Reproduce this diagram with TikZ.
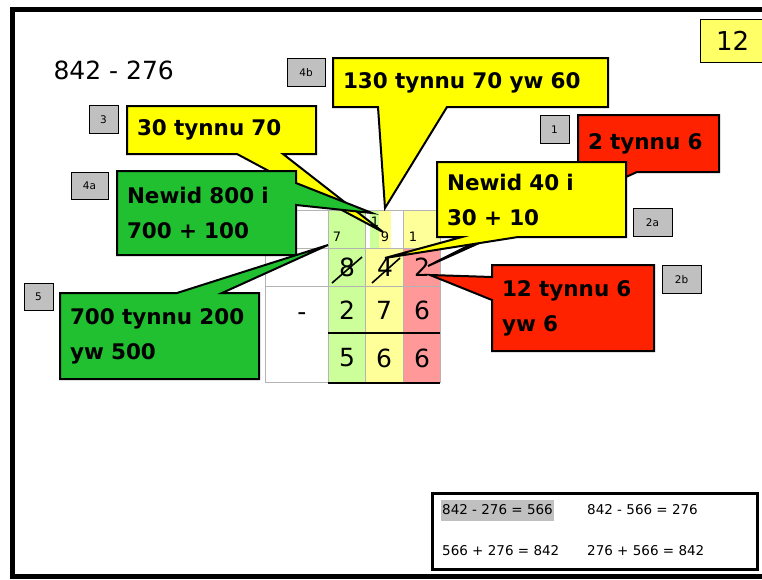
\documentclass[tikz,border=0pt]{standalone}
\usepackage{fontspec}
\setmainfont{DejaVu Sans}
\usetikzlibrary{calc}
\pgfdeclarelayer{background}
\pgfsetlayers{background,main}

\definecolor{bubbleyellow}{RGB}{255,255,0}
\definecolor{bubblegreen}{RGB}{32,192,48}
\definecolor{bubblered}{RGB}{255,34,0}
\definecolor{taggrey}{RGB}{192,192,192}
\definecolor{pageyellow}{RGB}{255,255,102}
\definecolor{colgreen}{RGB}{204,255,153}
\definecolor{colyellow}{RGB}{255,255,153}
\definecolor{colred}{RGB}{255,153,153}
\definecolor{gridgrey}{RGB}{180,180,180}

\tikzset{
  bubble/.style={anchor=north west, align=left, inner xsep=10pt, inner ysep=0pt, outer sep=0pt,
    font=\bfseries\fontsize{21.5}{35}\selectfont},
  outline/.style={draw=black, line width=2pt, line join=miter},
  tag/.style={draw=black, fill=taggrey, minimum height=28pt, inner sep=0pt,
    font=\fontsize{10.5}{12}\selectfont},
  digit/.style={font=\fontsize{25}{30}\selectfont},
  carry/.style={font=\fontsize{13}{15}\selectfont, inner sep=0pt},
  eqtext/.style={anchor=west, inner xsep=1pt, minimum height=21pt,
    font=\fontsize{13.5}{16}\selectfont}
}

\begin{document}
\begin{tikzpicture}[x=1pt, y=-1pt]
  \useasboundingbox (0,0) rectangle (762,579);

  % heading and page number
  \node (sum)  [anchor=west, font=\fontsize{25}{30}\selectfont] at (50,70) {842 - 276};
  \node (page) [draw, line width=1.2pt, fill=pageyellow, anchor=north west, minimum width=64pt,
    minimum height=43pt, font=\fontsize{26}{30}\selectfont] at (700,19) {12};

  % step numbers
  \node (s4b) [tag, minimum width=38pt] at (306,72.5)    {4b};
  \node (s3)  [tag, minimum width=29pt] at (103.5,119.5) {3};
  \node (s4a) [tag, minimum width=37pt, minimum height=27pt] at (89.5,185.5) {4a};
  \node (s5)  [tag, minimum width=29pt, minimum height=27pt] at (38.5,296.5) {5};
  \node (s1)  [tag, minimum width=29pt] at (554.5,129.5) {1};
  \node (s2a) [tag, minimum width=39pt] at (652.5,222.5) {2a};
  \node (s2b) [tag, minimum width=39pt] at (681.5,279.5) {2b};

  % speech bubbles
  \node (c130) [bubble, text width=255pt, minimum height=49pt] at (333,58)  {130 tynnu 70 yw 60};
  \node (c30)  [bubble, text width=169pt, minimum height=48pt] at (127,106) {30 tynnu 70};
  \node (c800) [bubble, text width=159pt, minimum height=84pt] at (117,171) {Newid 800 i\\700 + 100};
  \node (c2)   [bubble, text width=121pt, minimum height=57pt] at (578,115) {2 tynnu 6};
  \node (c40)  [bubble, text width=169pt, minimum height=75pt] at (437,162) {Newid 40 i\\30 + 10};
  \node (c12)  [bubble, text width=142pt, minimum height=86pt] at (492,265) {12 tynnu 6\\yw 6};
  \node (c700) [bubble, text width=179pt, minimum height=86pt] at (60,293)  {700 tynnu 200\\yw 500};

  % where the bubbles point
  \coordinate (tip130) at (385,208);
  \coordinate (tip30)  at (383,232);
  \coordinate (tip800) at (372,213);
  \coordinate (tip2)   at (428,266);
  \coordinate (tip40)  at (385,258);
  \coordinate (tip12)  at (430,275);
  \coordinate (tip700) at (328,245);

  % the sum
  \node (k7)  [carry] at (337,237) {7};
  \node (k1)  [carry] at (375,222) {1};
  \node (k9)  [carry] at (385,237) {9};
  \node (k1b) [carry] at (413,237) {1};
  \node (d8) [digit] at (347,267) {8};
  \node (d4) [digit] at (385,267) {4};
  \node (d2) [digit] at (422,267) {2};
  \node (minus) [digit] at (302,317) {-};
  \node (e2) [digit] at (347,310) {2};
  \node (e7) [digit] at (384,310) {7};
  \node (e6) [digit] at (422,310) {6};
  \node (r5) [digit] at (347,358) {5};
  \node (r6) [digit] at (384,358) {6};
  \node (r6b) [digit] at (422,358) {6};
  \draw [line width=1.6pt] ($(d8)+(-15,16)$) -- ($(d8)+(15,-10)$);
  \draw [line width=1.6pt] ($(d4)+(-13,16)$) -- ($(d4)+(15,-9)$);

  % related facts
  \node (eqbox) [draw, line width=2.5pt, minimum width=326pt, minimum height=77pt] at (595,531.5) {};
  \draw [line width=0.6pt] ($(eqbox.south west)+(3,-3)$) rectangle ($(eqbox.north east)+(-3,3)$);
  \node (eq1) [eqtext, fill=taggrey] at (441,510) {842 - 276 = 566};
  \node (eq2) [eqtext] at (586,510) {842 - 566 = 276};
  \node (eq3) [eqtext] at (441,551) {566 + 276 = 842};
  \node (eq4) [eqtext] at (586,551) {276 + 566 = 842};

  \begin{pgfonlayer}{background}
    \draw [line width=5pt] (780,9) -- (12.5,9) -- (12.5,576) -- (780,576);

    % column colours
    \fill [colgreen]  (328,210) rectangle (365,382);
    \fill [colyellow] (365,248) rectangle (403,382);
    \fill [colgreen]  (370,210) rectangle (379,248);
    \fill [colyellow] (379,210) rectangle (391,248);
    \fill [colyellow] (403,210) rectangle (440,248);
    \fill [colred]    (403,248) rectangle (440,382);
    % grid
    \draw [gridgrey, line width=1pt] (265,210) rectangle (440,382);
    \draw [gridgrey, line width=1pt] (265,248) -- (440,248);
    \draw [gridgrey, line width=1pt] (265,286) -- (440,286);
    \draw [gridgrey, line width=1pt] (328,210) -- (328,382);
    \draw [gridgrey, line width=1pt] (365,210) -- (365,382);
    \draw [gridgrey, line width=1pt] (403,210) -- (403,382);
    \draw [line width=2.5pt] (328,333) -- (440,333);
    \draw [line width=2.5pt] (328,383) -- (440,383);

    % bubble outlines
    \draw [outline, fill=bubbleyellow] (c130.north west) -- (c130.north east) -- (c130.south east)
      -- ($(c130.south west)+(114,0)$) -- (tip130) -- ($(c130.south west)+(45,0)$) -- (c130.south west) -- cycle;
    \draw [outline, fill=bubbleyellow] (c30.north west) -- (c30.north east) -- (c30.south east)
      -- ($(c30.south west)+(156,0)$) -- (tip30) -- ($(c30.south west)+(110,0)$) -- (c30.south west) -- cycle;
    \draw [outline, fill=bubblegreen] (c800.north west) -- (c800.north east) -- ($(c800.north east)+(0,12)$)
      -- (tip800) -- ($(c800.north east)+(0,34)$) -- (c800.south east) -- (c800.south west) -- cycle;
    \draw [outline, fill=bubblered] (c2.north west) -- (c2.north east) -- (c2.south east)
      -- ($(c2.south west)+(59,0)$) -- (tip2) -- ($(c2.south west)+(37,0)$) -- (c2.south west) -- cycle;
    \draw [outline, fill=bubbleyellow] (c40.north west) -- (c40.north east) -- (c40.south east)
      -- ($(c40.south west)+(81,0)$) -- (tip40) -- ($(c40.south west)+(25,0)$) -- (c40.south west) -- cycle;
    \draw [outline, fill=bubblered] (c12.north west) -- (c12.north east) -- (c12.south east) -- (c12.south west)
      -- ($(c12.north west)+(0,35)$) -- (tip12) -- ($(c12.north west)+(0,12)$) -- cycle;
    \draw [outline, fill=bubblegreen] (c700.north west) -- ($(c700.north west)+(117,0)$) -- (tip700)
      -- ($(c700.north west)+(162,0)$) -- (c700.north east) -- (c700.south east) -- (c700.south west) -- cycle;
  \end{pgfonlayer}
\end{tikzpicture}
\end{document}
